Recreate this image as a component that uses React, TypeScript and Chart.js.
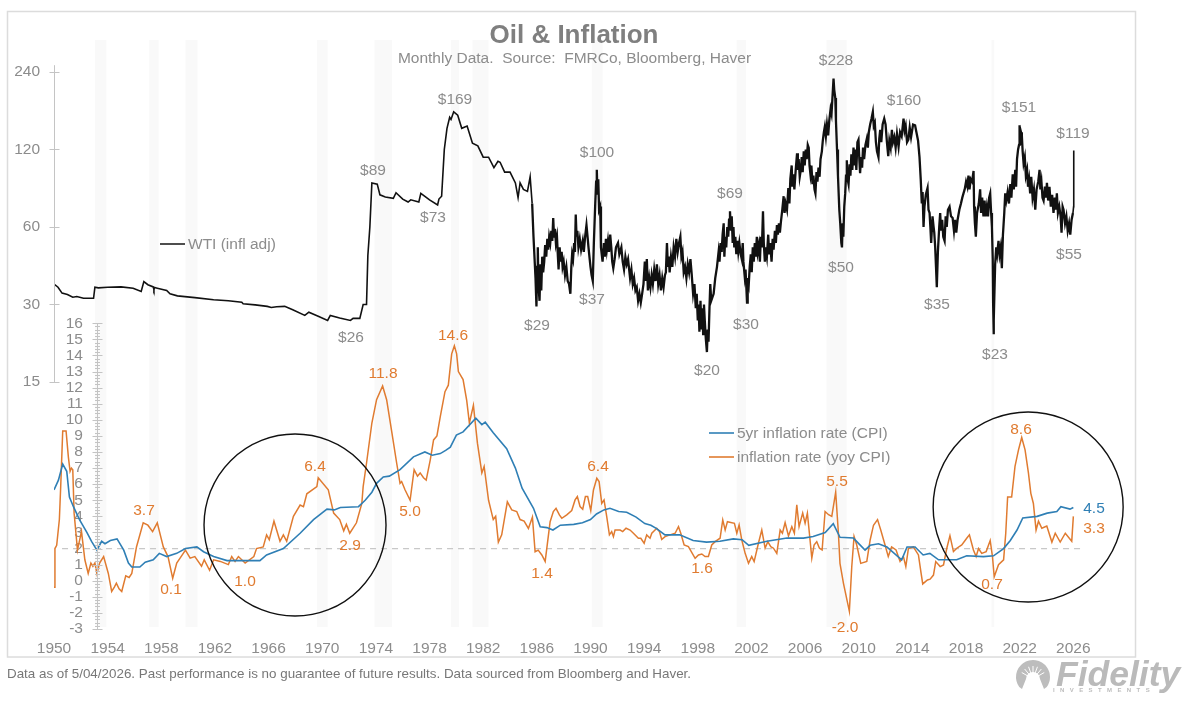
import { useEffect, useRef } from "react";
import { Chart, registerables } from "chart.js";
import type { Plugin, Scale } from "chart.js";

Chart.register(...registerables);

const GREY = "#8c8c8c";
const ORANGE = "#e07b30";
const BLUE = "#2f7fb5";
const FONT = "'Liberation Sans', Arial, sans-serif";
const LABEL_FONT = `15.5px ${FONT}`;

const xTicks = [1950, 1954, 1958, 1962, 1966, 1970, 1974, 1978, 1982, 1986, 1990, 1994, 1998, 2002, 2006, 2010, 2014, 2018, 2022, 2026];
const oilTicks = [15, 30, 60, 120, 240];
const inflationTicks = [-3, -2, -1, 0, 1, 2, 3, 4, 5, 6, 7, 8, 9, 10, 11, 12, 13, 14, 15, 16];

const wti: [number, number][] = [
  [1950, 36], [1950.3, 35], [1950.6, 33.2], [1951, 32.8], [1951.4, 32], [1951.7, 32.2], [1952.2, 31.7], [1952.95, 31.7], [1953.05, 35], [1953.3, 34.8], [1954, 35], [1955, 35.1], [1955.9, 34.7], [1956.5, 33.7], [1956.7, 36.8], [1957, 35.8], [1957.4, 35.1], [1957.45, 34.2], [1957.5, 34.9], [1957.7, 34.7], [1958.4, 34], [1958.65, 33], [1959.2, 32.4], [1960.5, 31.9], [1961.9, 31.3], [1963, 31], [1964, 30.6], [1964.1, 30.2], [1965, 29.9], [1965.9, 29.5], [1966.2, 29.2], [1966.6, 29.4], [1967.2, 29.5], [1967.8, 28.6], [1968.7, 27.2], [1969, 28], [1969.7, 27], [1970.4, 26], [1970.6, 27.2], [1971.3, 26.6], [1972.1, 26], [1972.3, 26.5], [1972.8, 26.5], [1973.05, 30], [1973.3, 30], [1973.4, 46.5], [1973.55, 60], [1973.7, 89], [1974.1, 88], [1974.3, 80], [1974.7, 78.5], [1975.3, 77.5], [1975.5, 81.5], [1976, 77], [1976.4, 75], [1976.6, 76.5], [1977.2, 75], [1977.35, 81], [1978, 76.5], [1978.6, 73], [1978.7, 77], [1978.9, 79], [1979.1, 120], [1979.3, 145], [1979.5, 160], [1979.6, 157], [1979.8, 168], [1980.1, 163], [1980.4, 145], [1980.8, 148], [1981.2, 127], [1981.6, 124], [1982, 112], [1982.4, 112], [1982.8, 102], [1983.1, 108], [1983.26, 107], [1983.6, 98], [1984, 98], [1984.4, 89], [1984.6, 78], [1984.75, 89], [1985, 84], [1985.3, 82.5], [1985.5, 94],
  [1985.65, 74], [1985.75, 55], [1985.9, 38], [1985.97, 29.5], [1986.02, 42], [1986.07, 50], [1986.12, 36], [1986.2, 31], [1986.27, 43], [1986.33, 34], [1986.4, 46], [1986.47, 40], [1986.55, 44], [1986.62, 51], [1986.7, 46], [1986.78, 54], [1986.85, 49], [1986.92, 55], [1987, 52], [1987.08, 58], [1987.15, 53], [1987.22, 65], [1987.28, 55], [1987.35, 59], [1987.42, 52], [1987.5, 55], [1987.57, 46], [1987.62, 41], [1987.7, 50], [1987.77, 44], [1987.85, 48], [1987.92, 42], [1988, 44], [1988.1, 39], [1988.2, 42], [1988.3, 37], [1988.4, 36], [1988.5, 33], [1988.57, 42], [1988.63, 47], [1988.7, 45], [1988.78, 52], [1988.84, 48], [1988.9, 67], [1988.96, 55], [1989.02, 58], [1989.1, 50], [1989.2, 54], [1989.3, 49], [1989.42, 53], [1989.5, 48], [1989.6, 55], [1989.7, 61], [1989.78, 55], [1989.85, 50], [1989.92, 46], [1990, 42], [1990.08, 39], [1990.17, 37], [1990.25, 52], [1990.35, 73], [1990.42, 90], [1990.47, 100], [1990.52, 80], [1990.58, 92], [1990.64, 70], [1990.72, 72], [1990.78, 50], [1990.9, 44], [1991, 52], [1991.07, 46], [1991.15, 54], [1991.22, 49], [1991.3, 53], [1991.38, 48], [1991.47, 56], [1991.55, 50], [1991.62, 44], [1991.7, 41.5], [1991.8, 45], [1991.9, 50], [1992.05, 52], [1992.15, 47], [1992.3, 50], [1992.4, 44], [1992.5, 41], [1992.6, 46], [1992.7, 43], [1992.8, 45], [1992.95, 38], [1993.05, 41], [1993.15, 36], [1993.25, 38], [1993.35, 34], [1993.45, 35], [1993.55, 31], [1993.65, 33], [1993.75, 30.5], [1993.85, 33], [1993.95, 36], [1994.05, 44], [1994.12, 37], [1994.2, 45], [1994.28, 34], [1994.38, 38], [1994.47, 35], [1994.56, 39], [1994.65, 36], [1994.75, 41], [1994.85, 37], [1994.95, 43], [1995.05, 36], [1995.15, 39], [1995.25, 34], [1995.35, 38], [1995.45, 35], [1995.55, 39], [1995.62, 40], [1995.7, 52], [1995.77, 42], [1995.83, 46], [1995.9, 40], [1996, 46], [1996.1, 42], [1996.2, 50], [1996.3, 46], [1996.4, 54], [1996.5, 48], [1996.6, 52], [1996.7, 55], [1996.78, 46], [1996.86, 48], [1996.95, 40], [1997.05, 42], [1997.15, 38], [1997.25, 43], [1997.35, 40], [1997.45, 45], [1997.55, 39], [1997.65, 33], [1997.75, 36], [1997.85, 29], [1997.92, 33], [1998, 26], [1998.06, 30], [1998.12, 23.5], [1998.2, 31], [1998.27, 24], [1998.33, 29], [1998.4, 23], [1998.46, 30], [1998.52, 26], [1998.6, 22], [1998.68, 19.6], [1998.74, 24], [1998.8, 21.5], [1998.87, 29], [1998.93, 36], [1999, 31], [1999.18, 33], [1999.3, 38], [1999.43, 42], [1999.55, 48], [1999.62, 44], [1999.7, 52], [1999.78, 48], [1999.85, 56], [1999.93, 62], [1999.98, 46], [2000.05, 55], [2000.12, 50], [2000.2, 60], [2000.27, 55], [2000.33, 64], [2000.4, 69], [2000.47, 58], [2000.53, 66], [2000.6, 52], [2000.66, 60], [2000.72, 50], [2000.8, 55], [2000.87, 47], [2000.95, 53], [2001.02, 48], [2001.1, 52], [2001.2, 47], [2001.28, 45], [2001.35, 52], [2001.4, 44], [2001.5, 38.5], [2001.56, 41], [2001.67, 30.5], [2001.72, 38], [2001.8, 36], [2001.87, 42], [2001.95, 47], [2002.02, 40], [2002.1, 50], [2002.17, 44], [2002.25, 52], [2002.33, 46], [2002.4, 55], [2002.47, 48], [2002.55, 51], [2002.63, 44], [2002.7, 55], [2002.78, 50], [2002.86, 69], [2002.92, 52], [2003, 44], [2003.05, 50], [2003.15, 46], [2003.25, 56], [2003.32, 47], [2003.4, 52], [2003.5, 44], [2003.58, 54], [2003.65, 49], [2003.75, 58], [2003.82, 52], [2003.9, 61], [2003.97, 56], [2004.05, 62], [2004.12, 57], [2004.2, 63], [2004.3, 70], [2004.4, 79], [2004.47, 68], [2004.55, 74], [2004.65, 70], [2004.75, 85], [2004.83, 74], [2004.9, 92], [2005, 104], [2005.05, 86], [2005.12, 96], [2005.2, 84], [2005.3, 100], [2005.4, 116], [2005.46, 100], [2005.52, 110], [2005.6, 94], [2005.68, 100], [2005.75, 112], [2005.82, 98], [2005.9, 118], [2005.97, 104], [2006.05, 120], [2006.12, 110], [2006.2, 125], [2006.27, 122], [2006.33, 104], [2006.4, 96], [2006.47, 104], [2006.55, 88], [2006.62, 95], [2006.7, 84], [2006.77, 81], [2006.85, 98], [2006.92, 90], [2007, 102], [2007.08, 94], [2007.15, 110], [2007.25, 118], [2007.32, 130], [2007.4, 140], [2007.47, 147], [2007.55, 135], [2007.63, 150], [2007.72, 136], [2007.8, 155], [2007.9, 172], [2007.97, 165], [2008.05, 195], [2008.12, 226], [2008.17, 205], [2008.25, 190], [2008.3, 155], [2008.38, 120], [2008.45, 95], [2008.55, 70], [2008.62, 62], [2008.7, 52], [2008.75, 50], [2008.8, 62], [2008.85, 55], [2008.92, 72], [2008.99, 81], [2009.05, 95], [2009.11, 109], [2009.17, 92], [2009.24, 88], [2009.32, 105], [2009.38, 95], [2009.45, 115], [2009.52, 100], [2009.61, 122], [2009.68, 104], [2009.75, 120], [2009.82, 100], [2009.9, 128], [2009.98, 131], [2010.05, 108], [2010.1, 97], [2010.17, 112], [2010.25, 102], [2010.32, 122], [2010.4, 110], [2010.5, 125], [2010.6, 132], [2010.68, 122], [2010.75, 140], [2010.85, 150], [2010.95, 158], [2011.05, 168], [2011.12, 148], [2011.2, 152], [2011.28, 128], [2011.36, 118], [2011.47, 112], [2011.53, 132], [2011.6, 143], [2011.68, 128], [2011.78, 150], [2011.9, 158], [2012, 150], [2012.1, 128], [2012.2, 113], [2012.28, 130], [2012.38, 122], [2012.47, 143], [2012.55, 128], [2012.65, 134], [2012.75, 122], [2012.85, 138], [2012.97, 123], [2013.08, 140], [2013.2, 135], [2013.34, 158], [2013.42, 142], [2013.5, 148], [2013.6, 128], [2013.7, 131], [2013.8, 146], [2013.9, 134], [2014.05, 150], [2014.2, 149], [2014.3, 140], [2014.42, 130], [2014.53, 112], [2014.62, 92], [2014.7, 74], [2014.76, 82], [2014.83, 60], [2014.9, 72], [2015, 80], [2015.13, 85], [2015.2, 70], [2015.28, 68], [2015.34, 60], [2015.4, 52], [2015.5, 66], [2015.58, 60], [2015.63, 57], [2015.7, 50], [2015.76, 42], [2015.82, 35], [2015.9, 48], [2016, 60], [2016.07, 68], [2016.14, 58], [2016.22, 64], [2016.3, 55], [2016.4, 53], [2016.48, 66], [2016.56, 60], [2016.65, 70], [2016.77, 72], [2016.88, 66], [2017, 65], [2017.1, 58], [2017.18, 64], [2017.27, 57], [2017.37, 64], [2017.5, 70], [2017.62, 74], [2017.72, 78], [2017.81, 81], [2017.9, 84], [2018, 90], [2018.1, 86], [2018.18, 95], [2018.26, 84], [2018.35, 92], [2018.45, 90], [2018.56, 99], [2018.6, 72], [2018.66, 62], [2018.73, 55], [2018.82, 68], [2018.95, 74], [2019.05, 84], [2019.12, 68], [2019.2, 78], [2019.3, 66], [2019.38, 76], [2019.46, 66], [2019.55, 72], [2019.64, 66], [2019.72, 78], [2019.8, 81], [2019.87, 68], [2019.93, 60], [2019.99, 45], [2020.02, 30], [2020.05, 23], [2020.08, 26], [2020.12, 34], [2020.17, 43], [2020.25, 50], [2020.32, 47], [2020.42, 53], [2020.5, 47], [2020.58, 50], [2020.67, 41.5], [2020.75, 56], [2020.85, 68], [2020.92, 81], [2021, 76], [2021.1, 82], [2021.2, 74], [2021.3, 88], [2021.38, 78], [2021.48, 96], [2021.56, 84], [2021.67, 100], [2021.73, 86], [2021.8, 110], [2021.88, 120], [2021.95, 125], [2021.99, 149], [2022.05, 125], [2022.1, 140], [2022.16, 136], [2022.22, 118], [2022.29, 106], [2022.38, 112], [2022.46, 95], [2022.55, 100], [2022.62, 86], [2022.7, 92], [2022.78, 81], [2022.86, 94], [2022.96, 78], [2023.06, 84], [2023.16, 70], [2023.26, 84], [2023.38, 90], [2023.48, 100], [2023.54, 84], [2023.62, 90], [2023.7, 78], [2023.78, 76], [2023.88, 86], [2023.96, 78], [2024.03, 89], [2024.12, 76], [2024.22, 86], [2024.32, 72], [2024.42, 80], [2024.52, 68], [2024.62, 78], [2024.7, 70], [2024.77, 81], [2024.85, 68], [2024.95, 72], [2025.05, 66], [2025.12, 57], [2025.15, 57], [2025.2, 72], [2025.27, 70], [2025.38, 62], [2025.48, 66], [2025.58, 58], [2025.68, 62], [2025.77, 56], [2025.87, 64], [2025.97, 68], [2026.02, 72], [2026.03, 119],
];

const inflationYoy: [number, number][] = [
  [1950, -0.4], [1950.07, 2], [1950.2, 2.2], [1950.4, 3.8], [1950.5, 5.85], [1950.65, 9.3], [1950.9, 9.3], [1951.07, 7.7], [1951.2, 6.8], [1951.3, 7], [1951.4, 6.9], [1951.5, 4.2], [1951.75, 1.9], [1952.05, 3.05], [1952.3, 1.3], [1952.55, 0.45], [1952.75, 1.1], [1952.9, 0.9], [1953.05, 1.1], [1953.2, 0.45], [1953.4, 1.1], [1953.7, 1.5], [1954.05, 0.45], [1954.3, -0.67], [1954.5, -0.4], [1954.65, -0.15], [1954.85, -0.5], [1955.05, -0.67], [1955.35, 0.3], [1955.6, 0.2], [1955.8, 0.45], [1956.15, 2.1], [1956.65, 3.6], [1957, 3.45], [1957.35, 3.05], [1957.7, 3.6], [1958.15, 2.1], [1958.5, 1.5], [1958.85, 0.15], [1959.15, 1.1], [1959.4, 1.4], [1959.8, 1.9], [1960.15, 1.4], [1960.5, 1.5], [1961, 0.9], [1961.2, 1.3], [1961.6, 0.65], [1961.9, 1.3], [1962.4, 1.2], [1963, 1], [1963.25, 1.5], [1963.5, 1.2], [1963.75, 1.5], [1964.25, 1.1], [1964.9, 1.5], [1965.1, 2], [1965.6, 2.1], [1965.85, 2.85], [1966.05, 2.55], [1966.4, 3.7], [1966.85, 2.45], [1967.1, 2.85], [1967.35, 2.45], [1967.85, 4], [1968.35, 4.7], [1968.6, 4.6], [1968.85, 5.4], [1969.6, 5.85], [1969.7, 6.4], [1970.45, 5.65], [1970.85, 4.2], [1971.3, 3.8], [1971.6, 3.1], [1971.8, 3.5], [1972.05, 2.95], [1972.55, 3.6], [1972.95, 4.8], [1973.05, 5.85], [1973.3, 7.3], [1973.7, 9.8], [1974.05, 11.25], [1974.5, 12.1], [1974.8, 11.25], [1975.2, 9.15], [1975.55, 7.3], [1975.8, 6.05],
  [1975.92, 6.16], [1976.17, 5.65], [1976.55, 5], [1976.85, 6.9], [1977.1, 6.5], [1977.3, 6.7], [1977.55, 6.4], [1977.75, 6.25], [1978.05, 7.5], [1978.3, 8.75], [1978.55, 9], [1978.8, 10.2], [1979.15, 11.75], [1979.4, 12.15], [1979.65, 14.1], [1979.85, 14.6], [1980.02, 14.1], [1980.15, 13], [1980.5, 12.5], [1980.77, 11.2], [1980.97, 9.8], [1981.27, 10.9], [1981.57, 8.55], [1981.9, 6.7], [1982.07, 7.1], [1982.4, 5], [1982.75, 3.8], [1982.93, 4], [1983.13, 2.4], [1983.38, 2.85], [1983.8, 4.9], [1984.13, 4.4], [1984.5, 4.3], [1984.75, 3.8], [1985.05, 3.7], [1985.37, 3.25], [1985.67, 3.95], [1985.87, 1.8], [1986.1, 1.9], [1986.37, 1.6], [1986.62, 1.2], [1986.99, 3.67],
  [1987.23, 4.3], [1987.43, 4.5], [1987.68, 4.09], [1987.86, 3.88], [1988.23, 4.09], [1988.6, 4.36], [1988.85, 5.02], [1989.02, 5.23], [1989.22, 4.61], [1989.42, 4.44], [1989.62, 5.23], [1989.79, 5.23], [1990.02, 4.36], [1990.22, 5.64], [1990.47, 6.37], [1990.64, 6.16], [1990.84, 4.81], [1991.01, 5.02], [1991.21, 3.98], [1991.41, 2.85], [1991.58, 3.05], [1991.71, 2.74], [1991.83, 3.15], [1992.21, 3.15], [1992.4, 3.05], [1992.65, 3.26], [1992.95, 3.15], [1993.2, 2.95], [1993.57, 2.64], [1993.75, 2.64], [1994, 2.33], [1994.19, 2.85], [1994.44, 2.64], [1994.57, 2.95], [1994.94, 3.26], [1995.14, 3.05], [1995.31, 2.57], [1995.56, 2.74], [1995.93, 2.85], [1996.31, 2.95], [1996.56, 3.36], [1996.73, 2.95], [1996.98, 2.22], [1997.3, 2.12], [1997.8, 1.39], [1998.05, 1.6], [1998.3, 1.66], [1998.54, 1.5], [1998.79, 1.5], [1999.04, 2.22], [1999.29, 2.43], [1999.66, 2.64], [1999.86, 3.78], [2000.04, 3.15], [2000.21, 3.67], [2000.73, 3.57], [2000.91, 2.95], [2001.08, 3.47], [2001.28, 2.53], [2001.53, 1.7], [2001.78, 1.08], [2002.02, 1.5], [2002.2, 1.19], [2002.52, 2.33], [2002.77, 3.15], [2003.02, 2.02], [2003.22, 2.43], [2003.44, 2.12], [2003.64, 2.02], [2003.89, 1.7], [2004.14, 3.15], [2004.31, 2.95], [2004.51, 3.61], [2004.76, 2.78], [2005.01, 3.36], [2005.2, 2.95], [2005.38, 4.71], [2005.55, 3.36],
  [2005.82, 4.2], [2006, 3.57], [2006.17, 4.2], [2006.32, 2.95], [2006.5, 1.4], [2006.67, 2.22], [2006.87, 2.43], [2007.07, 2.02], [2007.27, 1.91], [2007.49, 4.3], [2007.75, 4.1], [2007.99, 4], [2008.28, 5.5], [2008.48, 3], [2008.6, 1.08], [2008.86, -0.16], [2009.3, -1.9], [2009.48, 0.88], [2009.65, 2.75], [2009.85, 2.22], [2010.15, 1.08], [2010.6, 1.2], [2010.85, 2.53], [2011.1, 3.45], [2011.4, 3.8], [2011.64, 3.15], [2011.96, 2.22], [2012.2, 1.5], [2012.45, 2.1], [2012.78, 1.91], [2013.08, 1.2], [2013.33, 1.5], [2013.51, 0.88], [2013.7, 2], [2014.07, 2.1], [2014.45, 1.6], [2014.65, 0.46], [2014.77, -0.2], [2015.12, 0.05], [2015.32, 0.1], [2015.57, 0.35], [2015.74, 1.19], [2016.07, 0.88], [2016.32, 0.98], [2016.56, 2], [2016.8, 2.8], [2017.06, 1.81], [2017.31, 2.02], [2017.68, 2.22], [2018.05, 2.64], [2018.25, 2.85], [2018.55, 1.91], [2018.75, 1.5], [2018.93, 2], [2019.17, 1.7], [2019.5, 1.81], [2019.8, 2.5], [2019.97, 1.5], [2020.1, 0.25], [2020.42, 1], [2020.8, 1.3], [2020.96, 2.95], [2021.1, 5.2], [2021.4, 5.2], [2021.65, 7.1], [2021.91, 8.13], [2022.15, 8.9], [2022.4, 8.13], [2022.65, 6.7], [2022.83, 5.43], [2023.02, 4.8], [2023.22, 3.15], [2023.4, 3.7], [2023.65, 3.26], [2024.02, 3.4], [2024.4, 2.4], [2024.65, 2.95], [2025.02, 2.4], [2025.4, 2.95], [2025.88, 2.45], [2026, 4],
];

const inflation5yr: [number, number][] = [
  [1950, 5.65], [1950.33, 6.25], [1950.65, 7.25], [1950.95, 6.8], [1951.15, 5.2], [1951.45, 4.6], [1951.9, 3.8], [1952.45, 3], [1952.8, 2.45], [1953.2, 1.9], [1953.55, 2.45], [1953.8, 2.3], [1954.2, 2.5], [1954.7, 2.6], [1955.2, 1.9], [1955.55, 1.1], [1955.8, 0.85], [1956.4, 0.85], [1956.8, 1.15], [1957.4, 1.3], [1957.85, 1.7], [1958.4, 1.5], [1959.15, 1.7], [1959.8, 2], [1960.65, 2.1], [1961.15, 1.8], [1961.9, 1.5], [1962.9, 1.25], [1963.9, 1.25], [1965.35, 1.25], [1965.85, 1.6], [1967.1, 2], [1968.35, 2.95], [1969.35, 3.8], [1970.35, 4.45], [1970.9, 4.4], [1971.35, 4.55], [1972.7, 4.6], [1973.2, 5], [1973.7, 5.5], [1974.05, 6.05], [1974.55, 6.45], [1975, 6.5], [1975.8, 6.9],
  [1976.8, 7.7], [1977.65, 8], [1978.2, 7.8], [1978.8, 7.9], [1979.2, 8.1], [1979.55, 8.3], [1980, 9.05], [1980.5, 9.25], [1981.45, 10.1], [1981.9, 9.7], [1982.15, 9.85], [1982.75, 9.2], [1983.75, 8.2], [1984.4, 7], [1984.9, 5.75], [1985.75, 4.5], [1986.25, 3.35], [1986.75, 3.3], [1987.2, 3.15], [1987.75, 3.45], [1988.75, 3.5], [1989.4, 3.6], [1990, 3.8], [1990.45, 4.15], [1991, 4.4], [1991.45, 4.5], [1992.1, 4.3], [1992.7, 4.25], [1993.4, 3.95], [1994.05, 3.55], [1994.5, 3.45], [1994.9, 3.25], [1995.55, 2.85], [1996.65, 2.85], [1997.65, 2.5], [1998.65, 2.4], [1999.65, 2.45], [2000.65, 2.6], [2001.3, 2.55], [2001.8, 2.2], [2003.15, 2.45], [2004.65, 2.65],
  [2005.88, 2.65], [2006.6, 2.75], [2007.5, 3], [2008.1, 3.55], [2008.6, 2.7], [2009.6, 2.65], [2010.47, 1.9], [2010.85, 2.2], [2011.47, 2.3], [2012.1, 2.1], [2013.2, 1.3], [2013.6, 2.1], [2014.2, 2.1], [2014.8, 1.6], [2015.3, 1.7], [2015.95, 1.3], [2016.6, 1.3], [2017.3, 1.3], [2018.05, 1.55], [2019.3, 1.5], [2020.05, 1.55], [2020.8, 2], [2021.3, 2.5], [2021.8, 3.15], [2022.23, 3.9], [2023.3, 4], [2024.05, 4.2], [2024.77, 4.3], [2025.07, 4.6], [2025.75, 4.45], [2026, 4.55],
];

const targetLine: [number, number][] = [[1950.6, 2], [2026.6, 2]];

// circles around the two inflation episodes: [year, inflation, radius px]
const highlights: [number, number, number][] = [[1967.97, 3.46, 91], [2022.63, 4.58, 95]];

const recessions: [number, number][] = [
  [1953.05, 1953.9], [1957.1, 1957.8], [1959.8, 1960.7], [1969.6, 1970.4], [1973.9, 1975.2], [1979.6, 1980.2],
  [1981.2, 1982.4], [1990.1, 1990.9], [2000.9, 2001.6], [2007.6, 2009.1], [2019.9, 2020.1],
];

// callouts: [text, x px, y px]
const oilLabels: [string, number, number][] = [
  ["$228", 836, 60], ["$169", 455, 99], ["$160", 904, 100], ["$151", 1019, 107], ["$119", 1073, 133], ["$100", 597, 152],
  ["$89", 373, 170], ["$73", 433, 217], ["$69", 730, 193], ["$50", 841, 267], ["$55", 1069, 254], ["$35", 937, 304],
  ["$29", 537, 325], ["$37", 592, 299], ["$30", 746, 324], ["$26", 351, 337], ["$23", 995, 354], ["$20", 707, 370],
];
const inflationLabels: [string, number, number][] = [
  ["3.7", 144, 510], ["0.1", 171, 589], ["1.0", 245, 581], ["6.4", 315, 466], ["2.9", 350, 545], ["11.8", 383, 373],
  ["14.6", 453, 335], ["5.0", 410, 511], ["1.4", 542, 573], ["6.4", 598, 466], ["1.6", 702, 568], ["5.5", 837, 481],
  ["-2.0", 845, 627], ["0.7", 992, 584], ["8.6", 1021, 429], ["3.3", 1094, 528],
];

const toXY = (pts: [number, number][]) => pts.map(([x, y]) => ({ x, y }));

function text(ctx: CanvasRenderingContext2D, str: string, x: number, y: number, color: string, font: string, align: CanvasTextAlign = "center") {
  ctx.fillStyle = color;
  ctx.font = font;
  ctx.textAlign = align;
  ctx.textBaseline = "middle";
  ctx.fillText(str, x, y + 1);
}

function ruler(ctx: CanvasRenderingContext2D, scale: Scale, x: number, top: number, bottom: number) {
  ctx.strokeStyle = "#c4c4c4";
  ctx.lineWidth = 1;
  ctx.beginPath();
  ctx.moveTo(x, scale.getPixelForValue(top));
  ctx.lineTo(x, scale.getPixelForValue(bottom));
  ctx.stroke();
}

function tick(ctx: CanvasRenderingContext2D, x: number, y: number, half: number) {
  ctx.beginPath();
  ctx.moveTo(x - half, y);
  ctx.lineTo(x + half, y);
  ctx.stroke();
}

function drawLogo(ctx: CanvasRenderingContext2D) {
  const cx = 1033;
  const cy = 677;
  ctx.fillStyle = "#bdbdbd";
  ctx.beginPath();
  ctx.arc(cx, cy, 17, Math.PI * 0.8, Math.PI * 2.2);
  ctx.lineTo(cx + 11, cy + 12);
  ctx.arc(cx, cy + 2, 7, 0, Math.PI, true);
  ctx.lineTo(cx - 11, cy + 12);
  ctx.closePath();
  ctx.fill();
  ctx.strokeStyle = "#ffffff";
  ctx.lineWidth = 1;
  for (let a = -150; a <= -30; a += 20) {
    const r = (a * Math.PI) / 180;
    ctx.beginPath();
    ctx.moveTo(cx + Math.cos(r) * 4, cy + 2 + Math.sin(r) * 4);
    ctx.lineTo(cx + Math.cos(r) * 13, cy + 2 + Math.sin(r) * 13);
    ctx.stroke();
  }
  text(ctx, "Fidelity", 1056, 675, "#bababa", `italic bold 35.5px ${FONT}`, "left");
  ctx.save();
  ctx.letterSpacing = "5.4px";
  text(ctx, "INVESTMENTS", 1053, 689, "#bdbdbd", `bold 6px ${FONT}`, "left");
  ctx.restore();
}

const decorations: Plugin<"line"> = {
  id: "decorations",
  beforeDatasetsDraw(chart) {
    const { ctx, chartArea, scales } = chart;
    ctx.save();
    ctx.fillStyle = "#f9f9f9";
    recessions.forEach(([from, to]) => {
      const x0 = scales.x.getPixelForValue(from);
      const x1 = scales.x.getPixelForValue(to);
      ctx.fillRect(x0, chartArea.top, x1 - x0, chartArea.bottom - chartArea.top - 2);
    });
    ctx.restore();
  },
  afterDraw(chart) {
    const { ctx, scales } = chart;
    ctx.save();
    ctx.strokeStyle = "#dcdcdc";
    ctx.lineWidth = 1.5;
    ctx.strokeRect(7.5, 11.5, 1128, 645.5);

    ruler(ctx, scales.oil, 54.5, 255, 15);
    oilTicks.forEach((v) => tick(ctx, 54.5, Math.round(scales.oil.getPixelForValue(v)) + 0.5, 5));
    ruler(ctx, scales.infl, 97.5, 16, -3);
    for (let i = 0; i <= 95; i++) {
      tick(ctx, 97.5, Math.round(scales.infl.getPixelForValue(-3 + i * 0.2)) + 0.5, i % 5 === 0 ? 5 : 2.5);
    }

    ctx.strokeStyle = "#111111";
    ctx.lineWidth = 1.4;
    highlights.forEach(([year, value, radius]) => {
      ctx.beginPath();
      ctx.arc(scales.x.getPixelForValue(year), scales.infl.getPixelForValue(value), radius, 0, Math.PI * 2);
      ctx.stroke();
    });

    text(ctx, "Oil & Inflation", 574, 35, "#7f7f7f", `bold 26px ${FONT}`);
    text(ctx, "Monthly Data.  Source:  FMRCo, Bloomberg, Haver", 574.5, 58, GREY, LABEL_FONT);

    oilLabels.forEach(([s, x, y]) => text(ctx, s, x, y, GREY, LABEL_FONT));
    inflationLabels.forEach(([s, x, y]) => text(ctx, s, x, y, ORANGE, LABEL_FONT));
    text(ctx, "4.5", 1094, 508, BLUE, LABEL_FONT);

    // hand-placed series keys, as in the original
    const keys: [string, string, number, number][] = [
      ["WTI (infl adj)", "#222222", 160, 244],
      ["5yr inflation rate (CPI)", BLUE, 709, 433],
      ["inflation rate (yoy CPI)", ORANGE, 709, 457],
    ];
    keys.forEach(([s, color, x, y]) => {
      ctx.strokeStyle = color;
      ctx.lineWidth = 1.6;
      ctx.beginPath();
      ctx.moveTo(x, y);
      ctx.lineTo(x + 25, y);
      ctx.stroke();
      text(ctx, s, x + 28, y, GREY, LABEL_FONT, "left");
    });

    text(ctx, "Data as of 5/04/2026. Past performance is no guarantee of future results. Data sourced from Bloomberg and Haver.", 7, 673, "#777777", `13.4px ${FONT}`, "left");
    drawLogo(ctx);
    ctx.restore();
  },
};

export default function App() {
  const canvasRef = useRef<HTMLCanvasElement>(null);

  useEffect(() => {
    if (!canvasRef.current) return;

    const chart = new Chart(canvasRef.current, {
      type: "line",
      data: {
        datasets: [
          { label: "5yr inflation rate (CPI)", data: toXY(inflation5yr), yAxisID: "infl", borderColor: BLUE, borderWidth: 1.6, pointRadius: 0 },
          { label: "inflation rate (yoy CPI)", data: toXY(inflationYoy), yAxisID: "infl", borderColor: ORANGE, borderWidth: 1.5, pointRadius: 0 },
          {
            label: "WTI (infl adj)",
            data: toXY(wti),
            yAxisID: "oil",
            borderColor: "#111111",
            borderWidth: 1.6,
            pointRadius: 0,
            // the daily noise after the mid-80s reads as a heavier line
            segment: { borderWidth: (c: any) => (c.p0.parsed.x > 1985.6 && c.p0.parsed.x < 2025.9 ? 2.3 : 1.6) },
          },
          { label: "2%", data: toXY(targetLine), yAxisID: "infl", borderColor: "#c8c8c8", borderWidth: 1.2, borderDash: [6, 5], pointRadius: 0 },
        ],
      },
      options: {
        responsive: false,
        animation: false,
        devicePixelRatio: 1,
        events: [],
        layout: { padding: { left: 0, top: 40, right: 73, bottom: 0 } },
        elements: { line: { tension: 0 } },
        plugins: { legend: { display: false }, title: { display: false }, tooltip: { enabled: false } },
        scales: {
          x: {
            type: "linear",
            min: 1950,
            max: 2030,
            border: { display: false },
            grid: { display: false, drawTicks: false },
            afterBuildTicks: (s) => { s.ticks = xTicks.map((value) => ({ value })); },
            afterFit: (s) => { s.height = 73; },
            ticks: {
              padding: 10,
              autoSkip: false,
              maxRotation: 0,
              color: GREY,
              font: { family: FONT, size: 15.5 },
              callback: (v) => String(v),
            },
          },
          oil: {
            type: "logarithmic",
            position: "left",
            min: 1.647,
            max: 319.4,
            border: { display: false },
            grid: { display: false, drawTicks: false },
            afterBuildTicks: (s) => { s.ticks = oilTicks.map((value) => ({ value })); },
            afterFit: (s) => { s.width = 54; },
            ticks: {
              padding: 14,
              autoSkip: false,
              color: GREY,
              font: { family: FONT, size: 15.5 },
              callback: (v) => String(v),
            },
          },
          infl: {
            type: "linear",
            position: { x: 1952.16 },
            min: -3,
            max: 33.6,
            border: { display: false },
            grid: { display: false, drawTicks: false },
            afterBuildTicks: (s) => { s.ticks = inflationTicks.map((value) => ({ value })); },
            afterFit: (s) => { s.width = 0; },
            ticks: {
              autoSkip: false,
              color: GREY,
              font: { family: FONT, size: 15.5 },
              callback: (v) => String(v),
            },
          },
        },
      },
      plugins: [decorations],
    });

    return () => chart.destroy();
  }, []);

  return (
    <canvas
      ref={canvasRef}
      width={1200}
      height={702}
      style={{ position: "absolute", left: 0, top: 0, display: "block", background: "#ffffff" }}
    />
  );
}
